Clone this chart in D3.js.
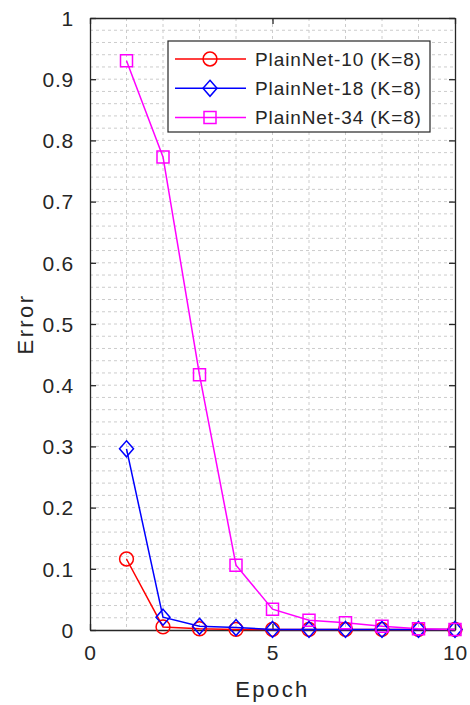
<!DOCTYPE html>
<html>
<head>
<meta charset="utf-8">
<script src="https://cdn.jsdelivr.net/npm/d3@7"></script>
<style>
  html, body { margin: 0; padding: 0; background: #fff; }
  svg { display: block; font-family: "Liberation Sans", Arial, sans-serif; }
</style>
</head>
<body>
<svg id="chart" width="470" height="705"></svg>
<script>
// Training error per epoch for three plain networks
const epochs = [1, 2, 3, 4, 5, 6, 7, 8, 9, 10];
const plain10 = [0.116, 0.005, 0.002, 0.001, 0.001, 0.001, 0.001, 0.001, 0.001, 0.001];
const plain18 = [0.296, 0.021, 0.006, 0.004, 0.001, 0.001, 0.001, 0.001, 0.001, 0.001];
const plain34 = [0.930, 0.773, 0.417, 0.106, 0.034, 0.016, 0.012, 0.006, 0.002, 0.001];
const seriesNames = ["PlainNet-10 (K=8)", "PlainNet-18 (K=8)", "PlainNet-34 (K=8)"];
const seriesColors = ["#ff0000", "#0000ff", "#ff00ff"];
const seriesMarkers = ["circle", "diamond", "square"];
const xTicks = [0, 5, 10];
const yTicks = [0, 0.1, 0.2, 0.3, 0.4, 0.5, 0.6, 0.7, 0.8, 0.9, 1];

const series = [plain10, plain18, plain34].map((vals, i) => ({
  name: seriesNames[i], color: seriesColors[i], marker: seriesMarkers[i],
  points: epochs.map((e, j) => ({ x: e, y: vals[j] }))
}));

const svg = d3.select("#chart");
const plotL = 90, plotR = 455, plotT = 18, plotB = 630;
const x = d3.scaleLinear().domain([0, 10]).range([plotL, plotR]);
const y = d3.scaleLinear().domain([0, 1]).range([plotB, plotT]);
const axisColor = "#262626";

// Minor grid (dotted)
const grid = svg.append("g");
grid.selectAll("line.gx").data(d3.range(1, 10)).join("line")
  .attr("x1", d => x(d)).attr("x2", d => x(d)).attr("y1", plotT).attr("y2", plotB)
  .attr("stroke", "#cccccc").attr("stroke-width", 1).attr("stroke-dasharray", "3,3");
grid.selectAll("line.gy").data(d3.range(1, 50).map(d => d * 0.02)).join("line")
  .attr("y1", d => y(d)).attr("y2", d => y(d)).attr("x1", plotL).attr("x2", plotR)
  .attr("stroke", "#cccccc").attr("stroke-width", 1).attr("stroke-dasharray", "3,3");

// Axes
const yAxis = d3.axisLeft(y).tickValues(yTicks).tickSizeInner(-6).tickSizeOuter(0)
  .tickPadding(16).tickFormat(d => d3.format("~g")(d));
const xAxis = d3.axisBottom(x).tickValues(xTicks).tickSizeInner(-6).tickSizeOuter(0)
  .tickPadding(15).tickFormat(d3.format("d"));

const gy = svg.append("g").attr("transform", `translate(${plotL},0)`).call(yAxis);
const gx = svg.append("g").attr("transform", `translate(0,${plotB})`).call(xAxis);
const gy2 = svg.append("g").attr("transform", `translate(${plotR},0)`)
  .call(d3.axisRight(y).tickValues(yTicks).tickSizeInner(-6).tickSizeOuter(0).tickFormat(""));
const gx2 = svg.append("g").attr("transform", `translate(0,${plotT})`)
  .call(d3.axisTop(x).tickValues(xTicks).tickSizeInner(-6).tickSizeOuter(0).tickFormat(""));

[gy, gx, gy2, gx2].forEach(g => {
  g.select(".domain").attr("stroke", axisColor).attr("stroke-width", 1.3);
  g.selectAll(".tick line").attr("stroke", axisColor).attr("stroke-width", 1.3);
  g.selectAll(".tick text").attr("fill", axisColor).attr("font-size", 21)
    .attr("letter-spacing", 0.8)
    .attr("font-family", "Liberation Sans, Arial, sans-serif");
});
gy.selectAll(".tick text").attr("dy", "0.35em");

// Axis titles
svg.append("text").attr("x", (plotL + plotR) / 2).attr("y", 697)
  .attr("text-anchor", "middle").attr("fill", axisColor).attr("font-size", 22)
  .attr("letter-spacing", 2.4).text("Epoch");
svg.append("text").attr("transform", `translate(33,${(plotT + plotB) / 2}) rotate(-90)`)
  .attr("text-anchor", "middle").attr("fill", axisColor).attr("font-size", 22)
  .attr("letter-spacing", 2.4).text("Error");

// Marker shapes
function markerPath(type) {
  if (type === "circle") return d3.symbol(d3.symbolCircle, 150)();
  if (type === "diamond") return "M0,-8L7,0L0,8L-7,0Z";
  return "M-6,-6L6,-6L6,6L-6,6Z";
}

const line = d3.line().x(d => x(d.x)).y(d => y(d.y));
const plot = svg.append("g");
series.forEach(s => {
  plot.append("path").datum(s.points).attr("d", line)
    .attr("fill", "none").attr("stroke", s.color).attr("stroke-width", 1.5);
});
series.forEach(s => {
  plot.selectAll(null).data(s.points).join("path")
    .attr("transform", d => `translate(${x(d.x)},${y(d.y)})`)
    .attr("d", markerPath(s.marker))
    .attr("fill", "none").attr("stroke", s.color).attr("stroke-width", 1.5);
});

// Legend
const lg = svg.append("g").attr("transform", "translate(168,41)");
lg.append("rect").attr("width", 262).attr("height", 91)
  .attr("fill", "#fff").attr("stroke", axisColor).attr("stroke-width", 1.2);
series.forEach((s, i) => {
  const ry = 18 + i * 29.3;
  lg.append("line").attr("x1", 7).attr("x2", 78).attr("y1", ry).attr("y2", ry)
    .attr("stroke", s.color).attr("stroke-width", 1.5);
  lg.append("path").attr("transform", `translate(42,${ry})`).attr("d", markerPath(s.marker))
    .attr("fill", "none").attr("stroke", s.color).attr("stroke-width", 1.5);
  lg.append("text").attr("x", 87).attr("y", ry).attr("dy", "0.35em")
    .attr("fill", axisColor).attr("font-size", 19).attr("letter-spacing", 0.9).text(s.name);
});
</script>
</body>
</html>
